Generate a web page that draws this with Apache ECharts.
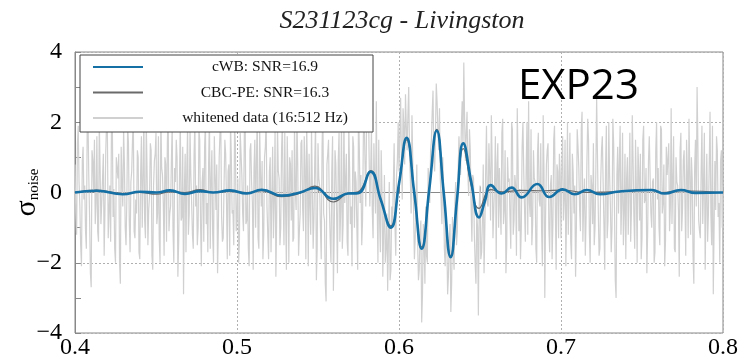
<!DOCTYPE html>
<html><head><meta charset="utf-8">
<script src="https://cdn.jsdelivr.net/npm/echarts@6/dist/echarts.min.js"></script>
<style>html,body{margin:0;padding:0;background:#fff}#c{width:739px;height:361px}</style>
</head><body><div id="c"></div>
<script>
// ---- data ----
const titleText = 'S231123cg - Livingston';
const stampText = 'EXP23';
const seriesNames = ['cWB: SNR=16.9', 'CBC-PE: SNR=16.3', 'whitened data (16:512 Hz)'];
const xTicks = [0.4, 0.5, 0.6, 0.7, 0.8];
const yTicks = [-4, -2, 0, 2, 4];

// cWB reconstructed waveform [time, sigma]
const cwbT = [0.400,0.4134,0.4296,0.4401,0.4504,0.4586,0.4679,0.4772,0.4852,0.4957,0.5060,0.5152,0.5276,0.5389,0.5481,0.5595,0.5685,0.5747,0.5825,0.5887,0.5949,0.6000,0.6047,0.6094,0.6140,0.6187,0.6233,0.6276,0.6319,0.6358,0.6397,0.6446,0.6494,0.6530,0.6566,0.6633,0.6695,0.6757,0.6854,0.6928,0.7010,0.7086,0.7160,0.7240,0.7360,0.7560,0.7640,0.7740,0.7830,0.8000];
const cwbY = [0.00,0.05,-0.05,0.02,0.00,0.06,-0.04,0.04,0.00,0.06,-0.03,0.08,-0.09,0.00,0.13,-0.18,-0.03,-0.02,0.59,-0.20,-1.00,0.25,1.56,0.00,-1.60,0.10,1.76,0.00,-1.84,-0.20,1.40,0.30,-0.71,-0.25,0.21,-0.03,0.14,-0.14,0.24,-0.13,0.09,-0.05,0.07,-0.05,0.03,0.07,-0.03,0.07,-0.01,0.00];

// CBC-PE waveform [time, sigma]
const cbcT = [0.400,0.4134,0.4296,0.4401,0.4504,0.4586,0.4679,0.4772,0.4852,0.4957,0.5060,0.5152,0.5276,0.5389,0.5481,0.5595,0.5685,0.5747,0.5825,0.5887,0.5949,0.6000,0.6047,0.6094,0.6140,0.6187,0.6233,0.6276,0.6319,0.6358,0.6397,0.6446,0.6494,0.6566,0.6640,0.6750,0.6900,0.7000,0.7160,0.7300,0.7560,0.7620,0.7740,0.8000];
const cbcY = [0.00,0.07,-0.03,0.00,-0.05,0.02,0.00,0.08,0.00,0.04,0.00,0.05,-0.12,-0.02,0.18,-0.27,-0.02,0.02,0.62,-0.20,-0.95,0.25,1.50,0.00,-1.55,0.10,1.80,0.00,-1.80,-0.20,1.25,0.20,-0.45,0.08,0.02,0.06,0.05,0.07,0.00,0.02,0.06,0.00,0.05,0.00];

// whitened data: samples on whole milliseconds from 0.400 s ...
const dataStart = 0.400;
const dataStep = 0.001;
const whitened = [
0.8,-1.2,1.9,-0.4,-2.1,1.3,0.2,-1.6,2.2,-0.7,-2.7,0.9,1.5,-0.3,-1.1,2.0,-0.9,0.4,-1.8,1.2,
1.7,-0.5,-1.4,2.3,0.1,-2.0,0.7,1.1,-2.6,0.3,1.8,-1.0,-0.2,1.4,-1.7,0.6,2.1,-1.3,-0.6,1.0,
-1.9,1.6,0.4,-0.8,2.0,-1.5,-0.1,1.2,-2.2,0.9,1.7,-0.6,-1.3,2.2,0.5,-1.8,0.8,1.4,-1.1,-0.4,
1.9,-2.0,0.3,1.0,-1.4,2.1,-0.7,-2.9,1.1,0.6,-1.2,1.8,-0.3,-1.6,2.0,0.2,-1.0,1.5,-2.1,0.7,
1.3,-0.9,-1.7,2.2,0.4,-1.2,1.6,-0.5,-2.3,1.0,1.9,-1.4,0.2,1.1,-1.9,0.8,2.0,-0.6,-1.5,1.4,
-0.7,-2.0,1.7,0.5,-1.1,2.3,-0.8,-1.6,1.2,0.3,-2.2,1.5,0.9,-1.3,1.8,-0.4,-1.9,1.0,2.1,-1.2,
0.6,-1.7,1.3,-0.2,-2.4,1.9,0.4,-1.0,2.0,-1.5,-0.5,1.6,-2.0,0.8,1.2,-1.3,0.1,2.2,-1.8,-0.6,
1.5,-1.1,0.7,2.0,-2.1,-0.3,1.8,-1.6,0.9,-2.5,1.4,0.2,-1.9,2.3,-0.8,-3.1,1.1,-0.4,-2.0,1.6,
-1.2,0.8,-2.3,1.7,-0.5,-1.6,2.2,0.3,-1.4,1.9,-0.9,-2.1,1.3,0.6,-1.0,2.4,-0.3,-1.5,1.6,0.9,
2.1,3.3,-0.4,1.8,-1.3,0.2,2.6,-2.0,-0.8,1.2,-2.4,0.5,-1.6,-2.8,0.3,-2.2,-1.0,1.4,-1.8,0.9,
0.6,2.7,-0.2,1.9,2.8,1.2,3.0,0.4,2.2,-0.5,-1.3,0.8,-2.5,-1.1,-3.7,-0.9,-2.6,-1.8,0.7,-0.3,
1.5,2.9,0.6,3.1,1.8,2.4,-0.2,1.0,-1.6,-0.8,-2.9,-1.5,-3.4,-0.7,-2.2,0.3,-1.1,1.6,0.5,2.6,
3.7,0.9,2.3,-0.1,1.2,-1.4,0.4,-2.0,-0.6,-3.5,0.2,-1.7,0.8,-1.0,1.9,-0.4,0.6,2.2,-1.3,0.3,
-1.9,1.4,0.7,-1.2,2.1,-0.5,-2.3,1.0,0.4,-1.6,1.8,-0.8,0.2,2.4,-1.1,-1.9,1.3,0.6,-1.4,2.0,
2.6,-0.7,-1.5,1.2,0.3,-2.0,1.7,-0.4,-1.0,2.2,-3.0,0.8,1.4,-1.7,0.5,-0.9,1.9,-2.2,0.6,1.1,
-1.3,1.6,-0.2,-2.1,2.0,0.4,-1.4,1.1,-0.6,-2.4,1.8,0.7,-1.1,2.3,-0.3,-1.8,0.9,1.5,-2.0,0.2,
1.4,-1.0,2.7,-0.5,-1.6,1.2,0.3,-2.2,1.9,-0.8,0.5,-1.7,2.1,-0.4,-3.0,1.3,0.8,-1.2,1.7,-0.6,
-1.9,1.0,0.2,-1.4,2.2,-0.7,1.5,-2.0,0.6,1.1,-1.3,1.9,-0.2,-2.3,0.9,1.6,-1.0,0.4,-1.7,2.0,
0.7,-1.5,1.8,-0.3,-2.1,1.3,0.5,-1.1,2.4,-0.9,-1.6,1.0,0.2,-2.4,1.7,-0.5,1.2,-1.8,0.6,2.1,
-1.2,0.4,-2.6,1.5,3.0,-0.8,-1.3,1.9,0.3,-2.2,1.1,-0.6,2.3,-1.5,-2.9,0.9,1.6,-0.7,-2.0,1.2,0.2
];
// ... and on the half milliseconds from 0.4005 s
const whitenedHalf = [
-0.6,1.4,0.3,-1.5,0.9,-0.2,-1.1,1.7,0.5,-2.3,1.2,0.1,-0.9,1.6,-1.4,0.7,-0.3,1.1,-0.5,2.0,
-1.3,0.2,1.8,-0.7,-1.6,1.0,0.4,-2.0,1.3,-0.4,0.8,-1.5,1.9,-0.8,0.3,1.5,-1.1,-0.2,1.2,-1.7,
0.5,-1.0,2.1,-1.3,0.6,-0.5,1.4,-1.8,0.2,1.1,-0.9,1.6,-2.0,0.7,-0.3,1.0,-1.4,2.3,-0.6,0.9,
-1.1,0.7,1.5,-2.4,0.4,-0.8,1.3,0.0,-1.7,1.9,-0.6,0.5,-1.2,1.1,-0.4,-1.5,1.8,-0.9,0.3,-1.4,
2.0,-0.3,0.9,-1.6,1.2,-2.0,0.5,0.8,-1.0,1.7,-0.7,-1.3,1.5,-0.2,0.6,-1.8,1.0,-0.5,1.9,-1.1,
0.4,-1.4,1.1,-0.6,1.6,-0.9,0.2,-2.1,1.4,-0.3,0.7,-1.0,2.2,-1.6,0.5,0.9,-1.2,1.3,-0.4,-1.9,
1.0,-0.2,-1.3,1.8,-0.7,0.6,-1.5,1.2,-0.1,1.7,-2.2,0.3,1.0,-0.8,-1.4,1.9,-0.5,0.8,-1.1,1.4,
-0.4,1.6,-1.9,0.5,1.1,-1.2,0.2,-0.7,2.0,-1.6,0.4,-1.0,1.3,-0.6,-2.6,0.8,1.5,-1.3,0.6,-2.8,
1.2,-0.6,0.9,-1.4,2.0,-0.9,-0.3,1.1,-1.8,0.7,-0.4,1.6,-1.0,0.3,-2.2,1.3,0.5,-0.8,2.2,-0.4,
2.8,1.2,0.6,-0.5,1.4,-0.6,-0.2,1.5,-1.7,0.1,-1.1,-2.0,-0.6,-1.3,-2.5,-0.4,0.2,-0.9,0.5,2.0,
1.6,1.0,2.4,0.8,1.9,2.2,1.1,-0.6,0.9,-1.9,-0.2,-1.4,-2.2,-0.8,-2.9,-1.5,-0.4,-2.0,0.3,1.2,
2.3,0.9,1.6,2.6,1.2,0.4,-0.9,0.2,-2.1,-1.3,-2.4,-0.9,-2.6,-1.7,-0.3,-1.5,0.6,1.1,1.9,1.3,
2.1,1.7,0.6,1.8,-0.3,0.5,-1.2,-2.6,-1.0,-0.4,-1.9,-0.8,-2.3,0.6,-0.3,1.4,-0.8,0.9,-0.5,1.6,
0.8,-1.0,-0.4,1.7,-0.9,1.2,-1.5,0.3,-0.7,2.0,-1.2,0.5,-1.8,0.9,0.1,-1.0,2.0,-0.5,0.7,-1.2,
-0.3,1.8,-0.9,0.4,-1.6,1.1,-0.2,1.4,-2.1,0.6,-0.6,1.2,-1.0,0.2,-1.9,1.5,-0.4,0.8,-1.3,0.5,
0.9,-0.8,1.5,-0.4,-1.2,1.7,-1.9,0.6,0.2,-1.0,1.3,-0.5,1.8,-1.4,0.4,-0.7,2.1,-1.1,0.5,-0.9,
-1.5,0.6,1.1,-1.8,0.3,1.6,-0.9,0.7,-1.3,2.0,-0.4,-1.0,1.4,-2.5,0.5,-0.6,1.9,-0.3,-1.5,1.1,
0.4,-1.2,1.7,-0.5,0.9,-1.6,0.2,1.3,-0.8,-1.9,1.5,-0.3,0.7,-1.1,1.6,-0.6,0.3,-2.0,1.2,-0.2,
-1.0,1.9,-0.6,0.8,-1.4,0.5,1.4,-0.4,-0.9,1.6,-1.7,0.3,-0.5,1.2,-1.1,0.9,-0.2,1.5,-1.3,0.6,
1.0,-1.8,0.7,-0.4,1.4,-1.1,0.6,-0.9,1.7,-0.3,-1.4,0.8,-0.6,1.9,-1.0,-0.5,1.2,-0.3,0.9,-1.0
];

// ---- build ----
const zip = (a, b) => a.map((t, i) => [t, b[i]]);
const whitenedPairs = [];
whitened.forEach((v, i) => {
  whitenedPairs.push([+(dataStart + i * dataStep).toFixed(4), v]);
  if (i < whitenedHalf.length) whitenedPairs.push([+(dataStart + (i + 0.5) * dataStep).toFixed(4), whitenedHalf[i]]);
});
const serif = 'Liberation Serif';

const chart = echarts.init(document.getElementById('c'), null, {renderer: 'canvas'});
chart.setOption({
  animation: false,
  backgroundColor: '#fff',
  title: {
    text: titleText, left: 397, textAlign: 'center', top: 3,
    textStyle: {fontFamily: serif, fontStyle: 'italic', fontWeight: 'normal', fontSize: 26, color: '#222'}
  },
  graphic: [{
    type: 'text', left: 518, top: 66, z: 100,
    style: {text: stampText, fontFamily: 'Open Sans', fontSize: 42, fill: '#000'}
  }],
  grid: {left: 75, right: 16, top: 52, bottom: 28, show: true, borderColor: '#888', borderWidth: 1,
         containLabel: false, outerBoundsMode: 'none'},
  legend: {
    orient: 'vertical', left: 80, top: 55,
    padding: [4, 0, 6, 12], itemWidth: 50, itemHeight: 14, itemGap: 9.5,
    backgroundColor: '#fff', borderColor: '#444', borderWidth: 1,
    itemStyle: {opacity: 0},
    data: seriesNames,
    formatter: n => '{t|' + n + '}',
    textStyle: {rich: {t: {fontFamily: serif, fontSize: 15.5, color: '#111', width: 216, align: 'center', padding: [0, 0, 0, 9], lineHeight: 14}}}
  },
  xAxis: {
    type: 'value', min: xTicks[0], max: xTicks[xTicks.length - 1], interval: 0.1,
    axisLine: {show: true, lineStyle: {color: '#888'}},
    axisTick: {show: true, inside: true, length: 6, lineStyle: {color: '#888'}},
    minorTick: {show: true, splitNumber: 2, length: 6, lineStyle: {color: '#888'}},
    splitLine: {show: true, lineStyle: {color: '#b0b0b0', type: [2, 2], width: 1}},
    axisLabel: {fontFamily: serif, fontSize: 24, color: '#000', margin: 3, formatter: v => v.toFixed(1)}
  },
  yAxis: {
    type: 'value', min: yTicks[0], max: yTicks[yTicks.length - 1], interval: 2,
    axisLine: {show: true, lineStyle: {color: '#888'}},
    axisTick: {show: true, inside: true, length: 6, lineStyle: {color: '#888'}},
    minorTick: {show: true, splitNumber: 2, length: 6, lineStyle: {color: '#888'}},
    splitLine: {show: true, lineStyle: {color: '#b0b0b0', type: [2, 2], width: 1}},
    axisLabel: {fontFamily: serif, fontSize: 24, color: '#000', margin: 13, formatter: v => String(v).replace('-', '\u2212')},
    name: '{s|\u03c3}{n|noise}', nameLocation: 'middle', nameGap: 33, nameRotate: 90, nameMoveOverlap: false,
    nameTextStyle: {rich: {
      s: {fontFamily: serif, fontSize: 30, color: '#000', lineHeight: 30},
      n: {fontFamily: serif, fontSize: 15, color: '#000', lineHeight: 14, verticalAlign: 'bottom'}
    }}
  },
  series: [
    {name: seriesNames[2], type: 'line', data: whitenedPairs, showSymbol: false, symbol: 'none', z: 1,
     lineStyle: {color: '#d0d0d0', width: 1.2}, itemStyle: {color: '#d0d0d0'}, silent: true},
    {name: seriesNames[1], type: 'line', data: zip(cbcT, cbcY), smooth: 0.5, showSymbol: false, symbol: 'none', z: 2,
     lineStyle: {color: '#6a6a6a', width: 1.2}, itemStyle: {color: '#6a6a6a'}},
    {name: seriesNames[0], type: 'line', data: zip(cwbT, cwbY), smooth: 0.5, showSymbol: false, symbol: 'none', z: 3,
     lineStyle: {color: '#1570a6', width: 2.6}, itemStyle: {color: '#1570a6'}}
  ]
});
</script></body></html>
